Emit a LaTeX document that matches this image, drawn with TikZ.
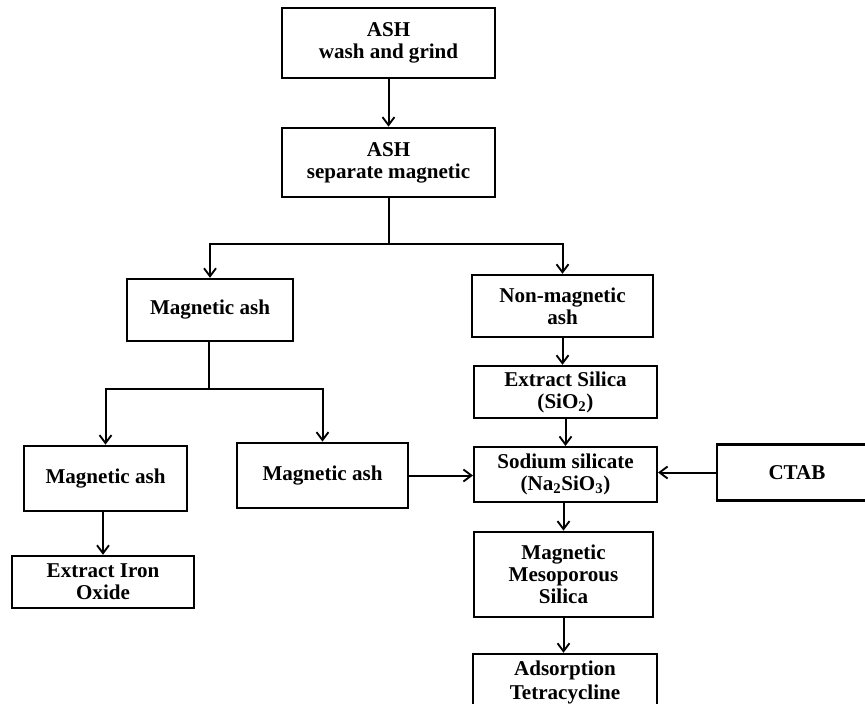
\documentclass[tikz,border=0pt]{standalone}
\usepackage{fontspec}
\setmainfont{Liberation Serif}
\usepackage{tikz}
\usetikzlibrary{positioning,arrows.meta}

\begin{document}
\begin{tikzpicture}[x=0.75pt, y=-0.75pt, >={Straight Barb[length=6pt,width=9pt,line width=1.4pt]}]
  \tikzset{
    stepbox/.style={draw, rectangle, line width=1.8pt, inner sep=0pt, align=center, text centered,
      font=\fontsize{15.8}{16.5}\selectfont\bfseries},
    flow/.style={line width=1.5pt}
  }
  \useasboundingbox (0,0) rectangle (865,704);
  \clip (0,0) rectangle (865,704);

  \node[stepbox, minimum width=160pt, minimum height=52.5pt] (wash) at (388.5,43) {ASH\\wash and grind};
  \node[stepbox, minimum width=160pt, minimum height=52pt] (separate) at (388.5,162.5) {ASH\\separate magnetic};
  \node[stepbox, minimum width=124.5pt, minimum height=46.5pt] (magash) at (210,310) {Magnetic ash};
  \node[stepbox, minimum width=136pt, minimum height=46.5pt] (nonmag) at (562.5,306) {Non-magnetic\\ash};
  \node[stepbox, minimum width=122pt, minimum height=49pt] (magleft) at (105.5,478.5) {Magnetic ash};
  \node[stepbox, minimum width=128pt, minimum height=49pt] (magmid) at (322.5,475.5) {Magnetic ash};
  \node[stepbox, minimum width=136.5pt, minimum height=39pt] (iron) at (103,582) {Extract Iron\\Oxide};
  \node[stepbox, minimum width=137pt, minimum height=39pt] (silica) at (565.5,392) {Extract Silica\\(SiO\textsubscript{2})};
  \node[stepbox, minimum width=137pt, minimum height=41pt] (sodium) at (565.5,474.5) {Sodium silicate\\(Na\textsubscript{2}SiO\textsubscript{3})};
  \node[stepbox, minimum width=120pt, minimum height=42pt] (ctab) at (797,472.5) {CTAB};
  \node[stepbox, minimum width=134pt, minimum height=64pt] (meso) at (563.5,574.5) {Magnetic\\Mesoporous\\Silica};
  \node[stepbox, minimum width=138pt, minimum height=42.75pt, font=\fontsize{15.8}{17.5}\selectfont\bfseries] (adsorb) at (565,682.5) {Adsorption\\Tetracycline};

  \coordinate (split1) at (388.5,244);
  \coordinate (split2) at (209,389);

  \draw[flow, ->] (wash) -- (separate);
  \draw[flow] (separate) -- (split1);
  \draw[flow, ->] (split1) -| (magash.north);
  \draw[flow, ->] (split1) -| (nonmag.north);
  \draw[flow] (magash.south -| split2) -- (split2);
  \draw[flow, ->] (split2) -| (magleft.north);
  \draw[flow, ->] (split2) -| (magmid.north);
  \draw[flow, ->] (magleft.south -| iron.north) -- (iron.north);
  \draw[flow, ->] (nonmag) -- (silica.north -| nonmag.south);
  \draw[flow, ->] (silica) -- (sodium);
  \draw[flow, ->] (magmid.east) -- (sodium.west |- magmid.east);
  \draw[flow, ->] (ctab.west) -- (sodium.east |- ctab.west);
  \draw[flow, ->] (sodium.south -| meso.north) -- (meso.north);
  \draw[flow, ->] (meso) -- (adsorb.north -| meso.south);
\end{tikzpicture}
\end{document}
